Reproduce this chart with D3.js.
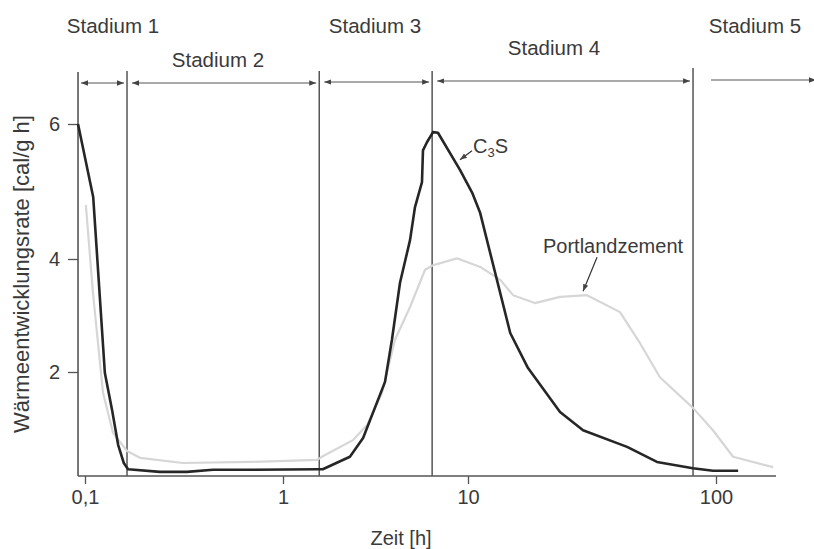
<!DOCTYPE html>
<html>
<head>
<meta charset="utf-8">
<script src="https://cdn.jsdelivr.net/npm/d3@7/dist/d3.min.js"></script>
<style>
  html, body { margin: 0; padding: 0; background: #fff; }
  svg { display: block; font-family: "Liberation Sans", Arial, sans-serif; }
</style>
</head>
<body>
<svg id="chart" width="814" height="549"></svg>
<script>
// Hydration heat flow of C3S and Portland cement (time in hours, log axis)
const c3sTime = [0.0922, 0.110, 0.126, 0.137, 0.147, 0.157, 0.165, 0.239, 0.327, 0.443, 0.68,
  1.55, 1.64, 2.30, 2.71, 3.56, 3.88, 4.29, 4.86, 5.17, 5.64, 5.71, 6.0, 6.47, 6.88, 9.05,
  10.4, 11.2, 14.8, 17.46, 23.5, 29.1, 43.8, 57.8, 80.7, 97.2, 122.8];
const c3sRate = [6.0, 4.92, 1.98, 1.27, 0.6, 0.25, 0.13, 0.08, 0.08, 0.12, 0.12,
  0.13, 0.13, 0.37, 0.73, 1.81, 2.57, 3.58, 4.28, 4.77, 5.14, 5.61, 5.73, 5.88, 5.87, 5.32,
  4.98, 4.68, 2.69, 2.07, 1.23, 0.88, 0.56, 0.27, 0.15, 0.1, 0.1];

const pzTime = [0.101, 0.1097, 0.1233, 0.1385, 0.163, 0.1896, 0.312, 0.68, 1.53, 1.64, 2.39,
  2.85, 3.43, 4.03, 4.86, 5.86, 6.47, 8.72, 11.2, 13.5, 15.2, 18.6, 23.5, 30.2, 41.0, 49.4,
  59.4, 80.7, 97.2, 117.2, 170];
const pzRate = [4.8, 3.40, 1.60, 0.83, 0.48, 0.35, 0.25, 0.27, 0.31, 0.38, 0.69,
  0.98, 1.6, 2.57, 3.15, 3.81, 3.89, 4.01, 3.86, 3.63, 3.36, 3.22, 3.33, 3.36, 3.06, 2.51,
  1.90, 1.31, 0.88, 0.37, 0.17];

// Stage boundaries (h) and stage names
const stageBounds = [0.163, 1.57, 6.4, 80.8];
const stageNames = ["Stadium 1", "Stadium 2", "Stadium 3", "Stadium 4", "Stadium 5"];

const xTickValues = [0.1, 1, 10, 100];
const xTickLabels = ["0,1", "1", "10", "100"];
const yTickValues = [2, 4, 6];

const xMin = 0.0922, xMax = 174.6, yMax = 6.77;

const svg = d3.select("#chart");
const ink = "#3a3a3a";

const x = d3.scaleLog()
  .domain([0.1, 1, 10, 100])
  .range([85, 283, 468, 716]);
const y = d3.scaleLinear()
  .domain([0, 2, 4, 6])
  .range([476, 372, 259, 124]);

const x0 = x(xMin), x1 = x(xMax), yBase = y(0), yTop = y(yMax);

// arrow heads
const defs = svg.append("defs");
defs.append("marker")
  .attr("id", "head")
  .attr("viewBox", "0 0 10 10")
  .attr("refX", 10).attr("refY", 5)
  .attr("markerWidth", 7).attr("markerHeight", 7)
  .attr("markerUnits", "userSpaceOnUse")
  .attr("orient", "auto-start-reverse")
  .append("path")
  .attr("d", "M0,1.2 L10,5 L0,8.8 Z")
  .attr("fill", "#444");

// axes
const xAxis = d3.axisBottom(x)
  .tickValues(xTickValues)
  .tickFormat((d, i) => xTickLabels[i])
  .tickSize(8).tickSizeOuter(0).tickPadding(6);
const yAxis = d3.axisLeft(y)
  .tickValues(yTickValues)
  .tickFormat(d3.format("d"))
  .tickSize(10).tickSizeOuter(0).tickPadding(8);

const gx = svg.append("g").attr("transform", `translate(0,${yBase})`).call(xAxis);
gx.select(".domain").attr("d", `M${x0},0H${x1}`);
const gy = svg.append("g").attr("transform", `translate(${x0},0)`).call(yAxis);
gy.select(".domain").attr("d", `M0,${yTop}V${yBase}`);

[gx, gy].forEach(g => {
  g.select(".domain").attr("stroke", "#555").attr("stroke-width", 1.6);
  g.selectAll(".tick line").attr("stroke", "#555").attr("stroke-width", 1.3);
  g.selectAll(".tick text").attr("fill", ink).attr("font-size", 20)
    .attr("font-family", "Liberation Sans, Arial, sans-serif");
});

// axis titles
svg.append("text")
  .attr("x", 401).attr("y", 545)
  .attr("text-anchor", "middle")
  .attr("font-size", 20).attr("fill", ink)
  .text("Zeit [h]");
svg.append("text")
  .attr("transform", `translate(29,274) rotate(-90)`)
  .attr("text-anchor", "middle")
  .attr("font-size", 22).attr("fill", ink)
  .text("Wärmeentwicklungsrate [cal/g h]");

// stage separators
svg.append("g").selectAll("line").data(stageBounds).join("line")
  .attr("x1", d => x(d)).attr("x2", d => x(d))
  .attr("y1", (d, i) => i === 3 ? 68 : 71).attr("y2", yBase)
  .attr("stroke", "#555").attr("stroke-width", 1.5);

// stage arrows
const edges = [xMin, ...stageBounds];
const arrowY = [83, 83, 82, 81, 80];
const arrows = svg.append("g");
stageNames.forEach((name, i) => {
  const left = x(edges[i]) + (i === 0 ? 3 : i === 4 ? 18 : 5);
  const right = i < 4 ? x(edges[i + 1]) - 3 : 816;
  arrows.append("line")
    .attr("x1", left).attr("x2", right)
    .attr("y1", arrowY[i]).attr("y2", arrowY[i])
    .attr("stroke", "#555").attr("stroke-width", 1.2)
    .attr("marker-start", i < 4 ? "url(#head)" : null)
    .attr("marker-end", "url(#head)");
});

// stage labels
const labelPos = [[113, 33], [218, 67], [375, 33], [554, 55], [755, 33]];
svg.append("g").selectAll("text").data(stageNames).join("text")
  .attr("x", (d, i) => labelPos[i][0]).attr("y", (d, i) => labelPos[i][1])
  .attr("text-anchor", "middle")
  .attr("font-size", 20.5).attr("fill", ink)
  .text(d => d);

// curves
const line = d3.line().x(d => x(d[0])).y(d => y(d[1]));
svg.append("path")
  .datum(d3.zip(pzTime, pzRate))
  .attr("d", line)
  .attr("fill", "none").attr("stroke", "#d6d6d6").attr("stroke-width", 2.2)
  .attr("stroke-linejoin", "round");
svg.append("path")
  .datum(d3.zip(c3sTime, c3sRate))
  .attr("d", line)
  .attr("fill", "none").attr("stroke", "#262626").attr("stroke-width", 2.6)
  .attr("stroke-linejoin", "round");

// annotations
const c3sTip = [x(9.05), y(5.47)];
svg.append("line")
  .attr("x1", c3sTip[0] + 12).attr("y1", c3sTip[1] - 9)
  .attr("x2", c3sTip[0]).attr("y2", c3sTip[1])
  .attr("stroke", "#333").attr("stroke-width", 1.2)
  .attr("marker-end", "url(#head)");
const c3sText = svg.append("text")
  .attr("x", c3sTip[0] + 13).attr("y", c3sTip[1] - 7)
  .attr("font-size", 20).attr("fill", ink);
c3sText.append("tspan").text("C");
c3sText.append("tspan").attr("font-size", 13).attr("dy", 4).text("3");
c3sText.append("tspan").attr("dy", -4).text("S");

const pzTip = [x(29.1), y(3.43)];
svg.append("line")
  .attr("x1", pzTip[0] + 14).attr("y1", pzTip[1] - 34)
  .attr("x2", pzTip[0]).attr("y2", pzTip[1])
  .attr("stroke", "#333").attr("stroke-width", 1.2)
  .attr("marker-end", "url(#head)");
svg.append("text")
  .attr("x", 543).attr("y", 253)
  .attr("font-size", 20).attr("fill", ink)
  .text("Portlandzement");
</script>
</body>
</html>
